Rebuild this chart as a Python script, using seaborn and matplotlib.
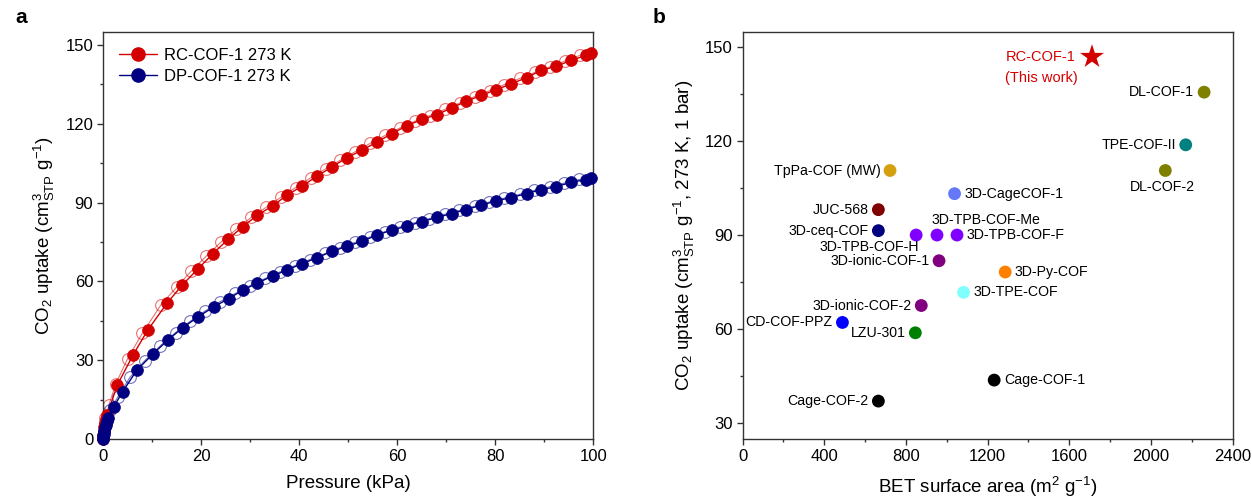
import matplotlib
matplotlib.use("Agg")
import matplotlib.pyplot as plt
import seaborn as sns
from matplotlib.ticker import MultipleLocator
from matplotlib.lines import Line2D

# ---------------- data: panel a (CO2 isotherms, 273 K) ----------------
rc_ads_p = [0, 0.05, 0.1, 0.2, 0.35, 0.55, 0.8, 2.9, 6.1, 9.1, 13.1, 16.2, 19.4, 22.4,
            25.5, 28.5, 31.5, 34.6, 37.6, 40.6, 43.7, 46.7, 49.7, 52.8, 55.9, 58.9,
            62.0, 65.0, 68.1, 71.1, 74.1, 77.2, 80.2, 83.3, 86.4, 89.4, 92.4, 95.5,
            98.6, 99.6]
rc_ads_q = [0, 1.5, 3.0, 4.5, 6.0, 7.5, 9.0, 20.5, 31.9, 41.4, 51.8, 58.7, 64.8, 70.5,
            76.0, 80.8, 85.2, 88.7, 92.9, 96.2, 100.1, 103.5, 107.0, 109.9, 113.0, 116.2,
            119.2, 121.6, 123.4, 126.0, 128.5, 130.8, 132.9, 135.2, 137.5, 140.3, 141.8, 144.1,
            146.0, 146.8]
rc_des_p = [97.3, 94.2, 91.1, 88.1, 85.0, 81.9, 78.9, 75.8, 72.8, 69.7, 66.7, 63.6, 60.6,
            57.6, 54.5, 51.5, 48.4, 45.4, 42.4, 39.3, 36.3, 33.3, 30.2, 27.2, 24.1, 21.1,
            18.0, 15.0, 11.8, 8.0, 5.0, 2.6, 1.2, 0.5]
rc_des_q = [146.0, 143.8, 141.6, 139.5, 137.2, 134.9, 132.6, 130.3, 127.9, 125.4, 123.1,
            120.9, 118.4, 115.6, 112.5, 109.4, 106.1, 102.8, 99.4, 95.7, 92.0, 88.2, 84.3,
            79.8, 75.0, 69.7, 63.9, 57.8, 51.0, 40.2, 30.5, 21.0, 13.0, 8.0]

dp_ads_p = [0, 0.05, 0.1, 0.2, 0.35, 0.55, 0.8, 1.0, 2.2, 4.0, 6.9, 10.1, 13.3, 16.3,
            19.4, 22.6, 25.6, 28.5, 31.5, 34.6, 37.6, 40.6, 43.7, 46.7, 49.7, 52.8,
            55.9, 58.9, 62.0, 65.0, 68.1, 71.1, 74.1, 77.2, 80.2, 83.3, 86.4, 89.4,
            92.4, 95.5, 98.5, 99.6]
dp_ads_q = [0, 1.0, 2.0, 3.0, 4.5, 5.5, 7.0, 8.0, 12.3, 18.0, 26.2, 32.2, 37.8, 42.4,
            46.5, 50.3, 53.4, 56.6, 59.4, 62.0, 64.4, 66.7, 69.0, 71.4, 73.3, 75.2,
            77.6, 79.5, 81.0, 82.7, 84.3, 85.8, 87.3, 89.0, 90.6, 91.9, 93.4, 94.9,
            96.0, 97.7, 98.7, 99.5]
dp_des_p = [97.2, 94.1, 91.1, 88.0, 85.0, 81.9, 78.8, 75.8, 72.7, 69.7, 66.6, 63.6, 60.5,
            57.5, 54.4, 51.4, 48.3, 45.3, 42.2, 39.2, 36.1, 33.1, 30.0, 27.0, 23.9, 20.9,
            17.8, 14.8, 11.7, 8.5, 5.5, 3.0, 1.5, 0.5]
dp_des_q = [98.8, 97.4, 96.0, 94.6, 93.1, 91.7, 90.2, 88.6, 87.0, 85.5, 83.9, 82.3, 80.7,
            78.9, 76.9, 74.8, 72.8, 70.6, 68.3, 66.0, 63.6, 61.1, 58.4, 55.4, 52.3, 48.8,
            44.8, 40.5, 35.5, 29.8, 23.5, 16.0, 11.0, 6.0]

series_labels = ["RC-COF-1 273 K", "DP-COF-1 273 K"]

# ---------------- data: panel b (comparison) ----------------
cof_names = ["DL-COF-1", "TPE-COF-II", "DL-COF-2", "TpPa-COF (MW)", "3D-CageCOF-1",
             "JUC-568", "3D-ceq-COF", "3D-TPB-COF-H", "3D-TPB-COF-Me", "3D-TPB-COF-F",
             "3D-ionic-COF-1", "3D-Py-COF", "3D-TPE-COF", "3D-ionic-COF-2",
             "CD-COF-PPZ", "LZU-301", "Cage-COF-1", "Cage-COF-2"]
cof_bet = [2260, 2170, 2070, 722, 1038, 665, 665, 850, 952, 1050,
           962, 1286, 1082, 875, 489, 846, 1232, 665]
cof_uptake = [135.7, 118.9, 110.7, 110.7, 103.3, 98.2, 91.5, 90.1, 90.1, 90.1,
              81.9, 78.3, 71.8, 67.6, 62.2, 58.9, 43.8, 37.1]
cof_colors = ["#808000", "#008080", "#808000", "#D4A00F", "#6478F8",
              "#800000", "#000080", "#8000FF", "#8000FF", "#8000FF",
              "#800080", "#FF8000", "#80FFFF", "#800080",
              "#0000FF", "#008000", "#000000", "#000000"]
this_name = "RC-COF-1"
this_note = "(This work)"
this_bet = [1711]
this_uptake = [147.0]

# label placement (ha, dx pt, dy pt)
label_pos = {
    "DL-COF-1": ("right", -7, 0), "TPE-COF-II": ("right", -7, 0),
    "DL-COF-2": ("center", -2, -12), "TpPa-COF (MW)": ("right", -7, 0),
    "3D-CageCOF-1": ("left", 7, 0), "JUC-568": ("right", -7, 0),
    "3D-ceq-COF": ("right", -7, 0), "3D-TPB-COF-H": ("right", 2, -8.5),
    "3D-TPB-COF-Me": ("left", -4, 11), "3D-TPB-COF-F": ("left", 7, 0),
    "3D-ionic-COF-1": ("right", -7, -0.5), "3D-Py-COF": ("left", 7, 0),
    "3D-TPE-COF": ("left", 7, 0), "3D-ionic-COF-2": ("right", -7, 0),
    "CD-COF-PPZ": ("right", -7, 0), "LZU-301": ("right", -7, 0),
    "Cage-COF-1": ("left", 7, 0), "Cage-COF-2": ("right", -7, 0),
}

RED = "#D40000"
NAVY = "#000080"

sns.set_theme(style="ticks")
plt.rcParams["font.family"] = ["Liberation Sans", "DejaVu Sans"]
plt.rcParams["mathtext.fontset"] = "custom"
plt.rcParams["mathtext.rm"] = "Liberation Sans"
plt.rcParams["mathtext.it"] = "Liberation Sans:italic"
plt.rcParams["mathtext.bf"] = "Liberation Sans:bold"
plt.rcParams["text.color"] = "black"
plt.rcParams["axes.labelcolor"] = "black"
plt.rcParams["xtick.labelcolor"] = "black"
plt.rcParams["ytick.labelcolor"] = "black"

fig = plt.figure(figsize=(12.52, 4.97), dpi=100)
axa = fig.add_axes([0.0823, 0.1167, 0.3915, 0.8195])
axb = fig.add_axes([0.5931, 0.1167, 0.3915, 0.8195])

# ---- panel a ----
for p, q, c in [(rc_des_p, rc_des_q, RED), (dp_des_p, dp_des_q, NAVY)]:
    sns.lineplot(x=p, y=q, ax=axa, sort=False, estimator=None, color=c, lw=0.8,
                 alpha=0.55, marker="o", markersize=8.5, markerfacecolor="none",
                 markeredgecolor=c, markeredgewidth=0.8, zorder=2)
for p, q, c in [(rc_ads_p, rc_ads_q, RED), (dp_ads_p, dp_ads_q, NAVY)]:
    sns.lineplot(x=p, y=q, ax=axa, sort=False, estimator=None, color=c, lw=1.0,
                 marker="o", markersize=8.5, markerfacecolor=c,
                 markeredgecolor=c, markeredgewidth=0.5, zorder=3)
for ln in axa.lines:
    ln.set_clip_on(False)

axa.set_xlim(0, 100)
axa.set_ylim(0, 155)
axa.xaxis.set_major_locator(MultipleLocator(20))
axa.xaxis.set_minor_locator(MultipleLocator(10))
axa.yaxis.set_major_locator(MultipleLocator(30))
axa.yaxis.set_minor_locator(MultipleLocator(15))
axa.set_xlabel("Pressure (kPa)", fontsize=13.5, labelpad=8)
axa.set_ylabel(r"CO$_2$ uptake (cm$^{3}_{\mathrm{STP}}$ g$^{-1}$)", fontsize=13.5, labelpad=6)

handles = [Line2D([], [], color=RED, lw=1.0, marker="o", markersize=9.5),
           Line2D([], [], color=NAVY, lw=1.0, marker="o", markersize=9.5)]
axa.legend(handles, series_labels, loc="upper left", frameon=False, fontsize=12,
           handlelength=2.3, handletextpad=0.4, labelspacing=0.4,
           borderaxespad=0.55, bbox_to_anchor=(0.0, 1.0))

# ---- panel b ----
sns.scatterplot(x=cof_bet, y=cof_uptake, hue=cof_names, palette=dict(zip(cof_names, cof_colors)),
                s=85, edgecolor="none", legend=False, ax=axb, zorder=3)
sns.scatterplot(x=this_bet, y=this_uptake, marker="*", s=330, color=RED,
                edgecolor="none", legend=False, ax=axb, zorder=3)

for name, x, y in zip(cof_names, cof_bet, cof_uptake):
    ha, dx, dy = label_pos[name]
    axb.annotate(name, (x, y), xytext=(dx, dy), textcoords="offset points",
                 ha=ha, va="center", fontsize=10.2, color="black")
axb.annotate(this_name, (this_bet[0], this_uptake[0]), xytext=(-12, 0),
             textcoords="offset points", ha="right", va="center", fontsize=10.5, color=RED)
axb.annotate(this_note, (this_bet[0], this_uptake[0]), xytext=(-10, -15),
             textcoords="offset points", ha="right", va="center", fontsize=10.5, color=RED)

axb.set_xlim(0, 2400)
axb.set_ylim(25, 155)
axb.xaxis.set_major_locator(MultipleLocator(400))
axb.xaxis.set_minor_locator(MultipleLocator(200))
axb.yaxis.set_major_locator(MultipleLocator(30))
axb.yaxis.set_minor_locator(MultipleLocator(15))
axb.set_xlabel(r"BET surface area (m$^{2}$ g$^{-1}$)", fontsize=13.5, labelpad=8)
axb.set_ylabel(r"CO$_2$ uptake (cm$^{3}_{\mathrm{STP}}$ g$^{-1}$, 273 K, 1 bar)",
               fontsize=13.5, labelpad=6)

for ax in (axa, axb):
    for sp in ax.spines.values():
        sp.set_color("#333333")
        sp.set_linewidth(1.0)
    ax.tick_params(which="major", direction="out", length=4, width=1, color="#333333",
                   labelsize=12, labelcolor="black", pad=3)
    ax.tick_params(which="minor", direction="out", length=2.5, width=1, color="#333333")
    ax.tick_params(top=False, right=False, which="both")

fig.text(0.012, 0.964, "a", fontsize=15, fontweight="bold", va="center", ha="left")
fig.text(0.521, 0.964, "b", fontsize=15, fontweight="bold", va="center", ha="left")

fig.savefig("out.png", dpi=100)
